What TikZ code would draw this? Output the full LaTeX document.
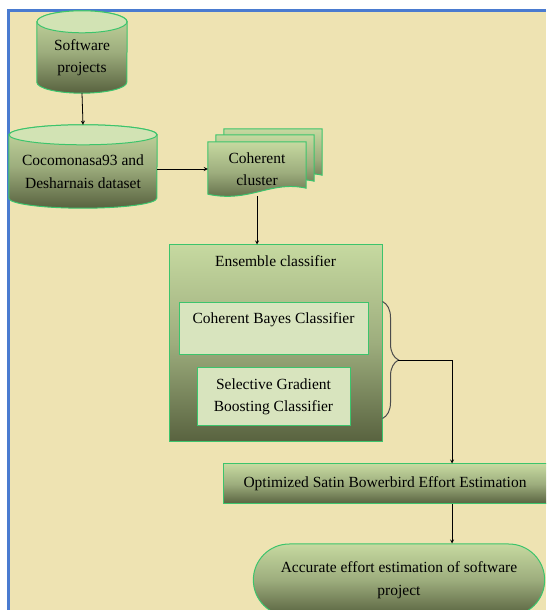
\documentclass[tikz,border=0pt]{standalone}
\usepackage{fontspec}
\setmainfont{Liberation Serif}
\usepackage{xcolor}
\usepackage{tikz}
\usetikzlibrary{shapes,arrows,positioning,calc,decorations.pathreplacing}
\pgfdeclarelayer{background}
\pgfsetlayers{background,main}
\definecolor{pagebg}{HTML}{EEE3B2}
\definecolor{frameblue}{HTML}{4A7BD0}
\definecolor{lightgrn}{HTML}{C6D9A0}
\definecolor{midolive}{HTML}{9DAD7D}
\definecolor{darkolive}{HTML}{58623F}
\definecolor{edgegrn}{HTML}{3CC46C}
\definecolor{capgrn}{HTML}{D2E3B4}
\definecolor{panefill}{HTML}{D8E4BE}

\begin{document}
\begin{tikzpicture}[x=1pt, y=1pt,
  node distance=0.5cm and 0.8cm,
  every node/.style={font=\fontsize{15.5}{22.5}\selectfont},
  greenfade/.style={top color=lightgrn, bottom color=darkolive, middle color=midolive},
  dbtext/.style={rectangle, align=center},
  drum/.style={draw=edgegrn, line width=1pt, greenfade},
  capfill/.style={fill=capgrn, draw=edgegrn, line width=1pt},
  docbox/.style={rectangle, align=center},
  docsheet/.style={draw=edgegrn, line width=1pt, greenfade},
  panel/.style={rectangle, draw=edgegrn, line width=1pt, greenfade},
  inner/.style={rectangle, draw=edgegrn, line width=1pt, fill=panefill, align=center},
  stepbox/.style={rectangle, draw=edgegrn, line width=1pt, greenfade, align=center},
  endcap/.style={rounded rectangle, draw=edgegrn, line width=1pt, greenfade, align=center},
  bracket/.style={decorate, decoration={brace, amplitude=16pt}, draw=black!70, line width=1pt},
  arrow/.style={->, >=stealth, line width=0.8pt}
]
  % page
  \useasboundingbox (0,0) rectangle (546,610);
  \clip (0,0) rectangle (546,610);
  \begin{pgfonlayer}{background}
    \fill[pagebg] (8.7,0) rectangle (546,599.7);
    \draw[frameblue, line width=2.5pt] (8.7,0) -- (8.7,599.7) -- (546,599.7);
  \end{pgfonlayer}

  % data stores (node = body from cap centre down)
  \node[dbtext, minimum width=90pt, minimum height=71pt] (sw) at (82,552.5) {Software\\projects};
  \node[dbtext, minimum width=148pt, minimum height=73pt] (db) at (83,438.5) {Cocomonasa93 and\\Desharnais dataset};
  \begin{pgfonlayer}{background}
    \foreach \cyl/\rx/\ry in {sw/45/11, db/74/10} {
      \path[drum] (\cyl.north west) -- ([yshift=\ry pt]\cyl.south west)
        arc[start angle=180, end angle=360, x radius=\rx pt, y radius=\ry pt]
        -- (\cyl.north east)
        arc[start angle=0, end angle=180, x radius=\rx pt, y radius=\ry pt] -- cycle;
      \filldraw[capfill] (\cyl.north) ellipse ({\rx pt} and {\ry pt});
    }
  \end{pgfonlayer}

  \node[docbox, minimum width=98pt, minimum height=54pt] (coh) at (257,441) {Coherent\\cluster};
  \begin{pgfonlayer}{background}
    \foreach \dx/\dy in {16/13, 8/7}
      \path[docsheet] ([shift={(\dx,\dy)}]coh.north west) -- ([shift={(\dx,\dy)}]coh.north east)
        -- ([shift={(\dx,\dy+8)}]coh.south east) .. controls +(-36,8) and +(42,-9) .. ([shift={(\dx,\dy+2)}]coh.south west) -- cycle;
    \path[docsheet] (coh.north west) -- (coh.north east) -- ([yshift=8pt]coh.south east)
      .. controls +(-36,8) and +(42,-9) .. ([yshift=2pt]coh.south west) -- cycle;
  \end{pgfonlayer}

  \node[panel, minimum width=213pt, minimum height=197pt] (ens) at (275.5,266.5) {};
  \node[below=8pt of ens.north] (enstitle) {Ensemble classifier};
  \node[inner, minimum width=189pt, minimum height=52pt, text height=11pt, text depth=21pt] (cbc) at (273.5,281) {Coherent Bayes Classifier};
  \node[inner, minimum width=153pt, minimum height=58pt] (sgb) at (273.5,213) {Selective Gradient\\Boosting Classifier};

  \node[stepbox, minimum width=324pt, minimum height=40pt] (opt) at (385,126) {Optimized Satin Bowerbird Effort Estimation};
  \node[endcap, minimum width=298pt, minimum height=72pt] (acc) at (399,30) {Accurate effort estimation of software\\project};

  \coordinate (bt) at (398,250);
  \coordinate (lane) at (452,0);

  \draw[arrow] (sw.south) -- ([yshift=10pt]db.north);
  \draw[arrow] (db.east |- coh.west) -- (coh.west);
  \draw[arrow] (coh.south) -- (coh.south |- ens.north);
  \draw[bracket] ([yshift=-57pt]ens.north east) -- ([yshift=24pt]ens.south east);
  \draw[arrow] (bt) -| (opt.north -| lane);
  \draw[arrow] (opt.south -| lane) -- (acc.north -| lane);
\end{tikzpicture}
\end{document}
